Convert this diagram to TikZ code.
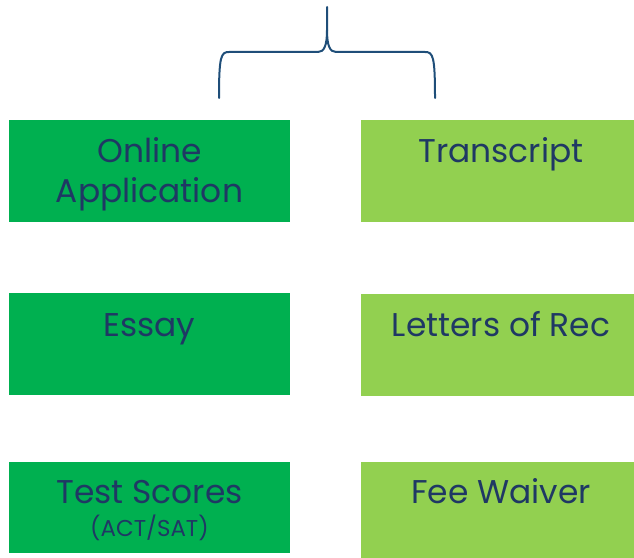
\documentclass[tikz,border=0pt]{standalone}
\usepackage{fontspec}
\setmainfont{Poppins}
\definecolor{dgreen}{HTML}{00B050}
\definecolor{lgreen}{HTML}{92D050}
\definecolor{navy}{HTML}{1F3864}
\definecolor{bracec}{HTML}{1F4E79}
\tikzset{
  gbox/.style={fill=dgreen, draw=none, inner sep=0pt, minimum width=281bp},
  lbox/.style={fill=lgreen, draw=none, inner sep=0pt, minimum width=273bp},
  txt/.style={anchor=base, text=navy, inner sep=0pt, font=\fontsize{33}{40}\selectfont},
  small/.style={anchor=base, text=navy, inner sep=0pt, font=\fontsize{23}{26}\selectfont},
  brace/.style={draw=bracec, line width=2bp, line cap=round}
}
\begin{document}
\begin{tikzpicture}[x=1bp,y=-1bp]
\useasboundingbox (0,0) rectangle (634,558);
% boxes
\node[gbox, minimum height=102bp] (app) at (149.5,171) {};
\node[gbox, minimum height=102bp] (essay) at (149.5,344) {};
\node[gbox, minimum height=91bp] (test) at (149.5,507.5) {};
\node[lbox, minimum height=102bp] (trans) at (497.5,171) {};
\node[lbox, minimum height=102bp] (letters) at (497.5,345) {};
\node[lbox, minimum height=96bp] (fee) at (497.5,510) {};
% texts
\node[txt] (t1) at (149.5,163) {Online};
\node[txt] (t2) at (149.5,203) {Application};
\node[txt] (t3) at (149.5,336) {Essay};
\node[txt] (t4) at (149.5,503) {Test Scores};
\node[small] (t5) at (149.5,536) {(ACT/SAT)};
\node[txt] (t6) at (501,163) {Transcript};
\node[txt] (t7) at (501,336) {Letters of Rec};
\node[txt] (t8) at (501,503) {Fee Waiver};
% brace
\coordinate (bl) at (219,98);
\coordinate (br) at (435,98);
\coordinate (tip) at (327,7);
\coordinate (mid) at (327,30);
\draw[brace] (bl) .. controls (219,56) and (221,52) .. (229,52) -- (318,52) .. controls (324,52) and (327,46) .. (mid) -- (tip);
\draw[brace] (br) .. controls (435,56) and (433,52) .. (425,52) -- (336,52) .. controls (330,52) and (327,46) .. (mid);
\end{tikzpicture}
\end{document}
